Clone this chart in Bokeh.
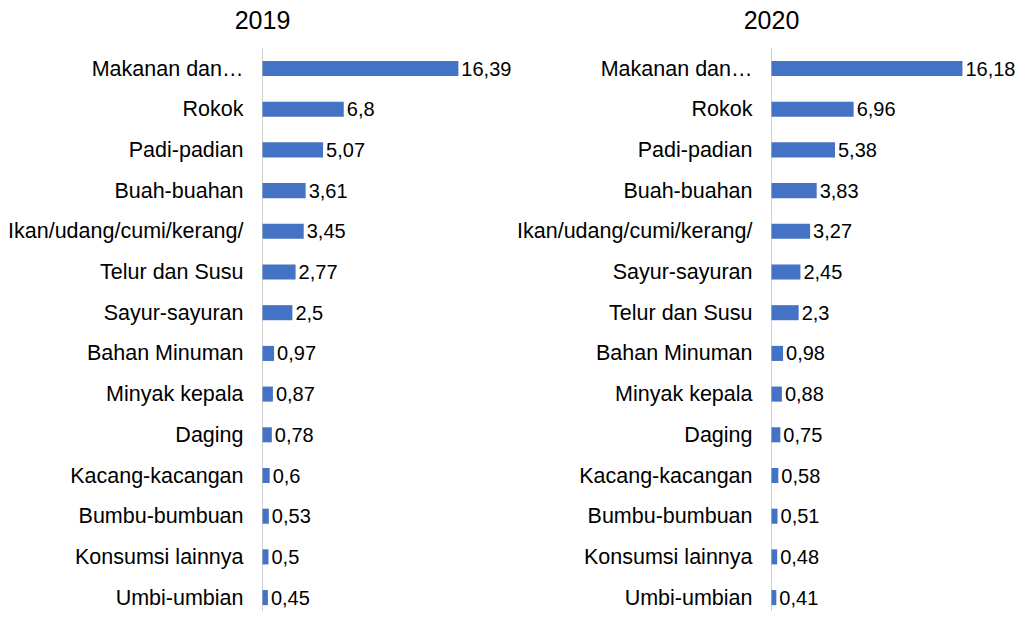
import numpy as np
from bokeh.plotting import figure
from bokeh.layouts import row
from bokeh.models import ColumnDataSource, Range1d
from bokeh.core.properties import value
from bokeh.embed import file_html
from bokeh.resources import INLINE

# ---- data ----
cats_2019 = ["Makanan dan…", "Rokok", "Padi-padian", "Buah-buahan", "Ikan/udang/cumi/kerang/",
             "Telur dan Susu", "Sayur-sayuran", "Bahan Minuman", "Minyak kepala", "Daging",
             "Kacang-kacangan", "Bumbu-bumbuan", "Konsumsi lainnya", "Umbi-umbian"]
vals_2019 = [16.39, 6.8, 5.07, 3.61, 3.45, 2.77, 2.5, 0.97, 0.87, 0.78, 0.6, 0.53, 0.5, 0.45]

cats_2020 = ["Makanan dan…", "Rokok", "Padi-padian", "Buah-buahan", "Ikan/udang/cumi/kerang/",
             "Sayur-sayuran", "Telur dan Susu", "Bahan Minuman", "Minyak kepala", "Daging",
             "Kacang-kacangan", "Bumbu-bumbuan", "Konsumsi lainnya", "Umbi-umbian"]
vals_2020 = [16.18, 6.96, 5.38, 3.83, 3.27, 2.45, 2.3, 0.98, 0.88, 0.75, 0.58, 0.51, 0.48, 0.41]

titles = ["2019", "2020"]

FONT = value("Liberation Sans")
BAR = "#4472C4"
H = 611
ROW_PX = 40.7
TOP_PX = 68.0   # distance from figure top to center of first row


def panel(title, cats, vals, width, axis_px, px_per_unit):
    n = len(cats)
    y = np.arange(n)
    src = ColumnDataSource(dict(
        y=y, v=vals, cat=cats,
        lab=[("%g" % v).replace(".", ",") for v in vals],
        zero=[0] * n,
    ))
    x0 = -axis_px / px_per_unit
    x1 = x0 + width / px_per_unit
    y_top = -TOP_PX / ROW_PX
    y_bot = y_top + H / ROW_PX
    p = figure(width=width, height=H, output_backend="svg", toolbar_location=None,
               x_axis_type=None, y_axis_type=None,
               x_range=Range1d(x0, x1), y_range=Range1d(y_bot, y_top),
               min_border=0, outline_line_color=None)
    p.xgrid.visible = False
    p.ygrid.visible = False
    # axis line
    p.segment(x0=[0], y0=[-0.5], x1=[0], y1=[n + 1], line_color="#D0D0D0", line_width=1)
    p.hbar(y="y", left=0, right="v", height=0.37, source=src,
           fill_color=BAR, line_color=None)
    p.text(x="v", y="y", text="lab", source=src, x_offset=3,
           text_font=FONT, text_font_size="20px", text_color="#000000",
           text_baseline="middle", text_align="left")
    p.text(x="zero", y="y", text="cat", source=src, x_offset=-19,
           text_font=FONT, text_font_size="21.5px", text_color="#000000",
           text_baseline="middle", text_align="right")
    # title centered over the axis line
    p.text(x=[0], y=[-1.18], text=[title], text_font=FONT, text_font_size="25px",
           text_color="#000000", text_baseline="middle", text_align="center")
    return p


p1 = panel(titles[0], cats_2019, vals_2019, 512, 262, 11.95)
p2 = panel(titles[1], cats_2020, vals_2020, 504, 259, 11.8)

layout = row(p1, p2)
open("out.html", "w").write(file_html(layout, INLINE))
